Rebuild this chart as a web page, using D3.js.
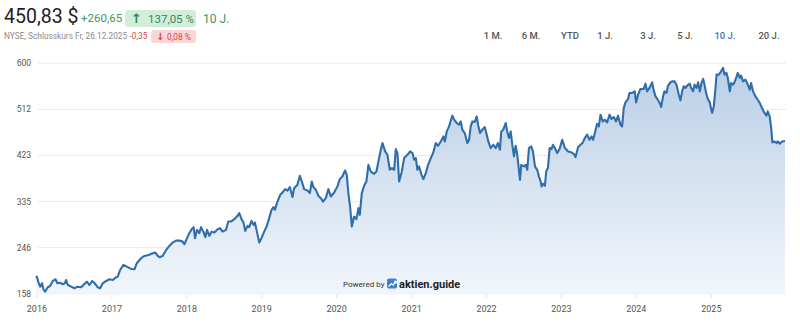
<!DOCTYPE html>
<html><head><meta charset="utf-8">
<script src="https://cdn.jsdelivr.net/npm/d3@7"></script>
<style>
html,body{margin:0;padding:0;background:#fff;}
svg{display:block;font-family:Roboto,"Noto Sans",sans-serif;}
</style></head>
<body><div id="chart"></div>
<script>
// ---- data ----
const yearFrac = [2015.984,2016.0,2016.024,2016.047,2016.069,2016.087,2016.109,2016.144,2016.176,2016.211,2016.247,2016.273,2016.309,2016.344,2016.371,2016.389,2016.411,2016.456,2016.5,2016.544,2016.589,2016.633,2016.664,2016.7,2016.736,2016.771,2016.811,2016.843,2016.877,2016.923,2016.967,
2017.011,2017.047,2017.077,2017.109,2017.153,2017.197,2017.256,2017.3,2017.331,2017.389,2017.433,2017.491,2017.544,2017.58,2017.611,2017.633,2017.677,2017.723,2017.767,2017.811,2017.856,2017.9,2017.944,2017.967,
2018.003,2018.033,2018.064,2018.091,2018.109,2018.136,2018.167,2018.189,2018.22,2018.247,2018.269,2018.3,2018.331,2018.367,2018.411,2018.443,2018.477,2018.523,2018.553,2018.589,2018.633,2018.669,2018.7,2018.731,2018.757,2018.78,2018.811,2018.833,2018.864,2018.891,2018.909,2018.936,2018.967,2018.997,
2019.033,2019.069,2019.1,2019.131,2019.157,2019.176,2019.211,2019.247,2019.277,2019.313,2019.344,2019.376,2019.411,2019.433,2019.477,2019.509,2019.536,2019.567,2019.611,2019.643,2019.669,2019.691,2019.723,2019.757,2019.789,2019.82,2019.856,2019.891,2019.923,2019.967,
2020.011,2020.043,2020.077,2020.113,2020.136,2020.157,2020.18,2020.203,2020.233,2020.264,2020.291,2020.309,2020.336,2020.367,2020.397,2020.424,2020.456,2020.5,2020.531,2020.557,2020.589,2020.611,2020.647,2020.677,2020.709,2020.736,2020.767,2020.789,2020.811,2020.833,2020.869,2020.9,2020.944,2020.98,
2021.011,2021.033,2021.056,2021.077,2021.1,2021.131,2021.157,2021.189,2021.22,2021.256,2021.287,2021.323,2021.353,2021.389,2021.424,2021.443,2021.469,2021.5,2021.523,2021.544,2021.567,2021.603,2021.633,2021.656,2021.677,2021.709,2021.744,2021.767,2021.789,2021.811,2021.843,2021.869,2021.887,2021.913,2021.944,2021.976,
2022.003,2022.024,2022.056,2022.091,2022.123,2022.153,2022.18,2022.197,2022.224,2022.256,2022.277,2022.3,2022.323,2022.344,2022.367,2022.389,2022.411,2022.447,2022.464,2022.5,2022.523,2022.544,2022.567,2022.597,2022.62,2022.647,2022.677,2022.7,2022.723,2022.736,2022.753,2022.78,2022.797,2022.82,2022.843,2022.869,2022.887,2022.913,2022.944,2022.976,
2023.011,2023.047,2023.091,2023.136,2023.167,2023.189,2023.224,2023.256,2023.287,2023.313,2023.344,2023.376,2023.403,2023.424,2023.447,2023.477,2023.5,2023.523,2023.553,2023.58,2023.611,2023.643,2023.669,2023.7,2023.731,2023.757,2023.789,2023.811,2023.833,2023.856,2023.891,2023.909,2023.944,2023.98,2023.997,
2024.024,2024.056,2024.1,2024.123,2024.144,2024.176,2024.211,2024.233,2024.256,2024.287,2024.313,2024.331,2024.357,2024.376,2024.403,2024.42,2024.447,2024.477,2024.509,2024.536,2024.567,2024.589,2024.611,2024.633,2024.656,2024.677,2024.713,2024.731,2024.757,2024.776,2024.803,2024.824,2024.847,2024.869,2024.891,2024.909,2024.931,2024.953,2024.98,2024.997,
2025.011,2025.033,2025.056,2025.069,2025.1,2025.131,2025.157,2025.176,2025.203,2025.22,2025.247,2025.264,2025.291,2025.309,2025.336,2025.353,2025.38,2025.397,2025.424,2025.456,2025.487,2025.513,2025.531,2025.557,2025.589,2025.62,2025.647,2025.677,2025.709,2025.736,2025.753,2025.78,2025.797,2025.816,2025.843,2025.869,2025.887,2025.913,2025.944,2025.984];

const prices = [190.18,190.7,178,171.5,178,166.5,161.8,170.3,172.8,182.4,185.7,178,179.1,176.1,178,184.3,174.7,171.5,168.4,171.5,170.3,176.6,181.1,174.7,182.4,178,170.3,168.4,178,182.4,185.7,
184.3,188.7,190.7,203.5,213.2,209.9,205.5,204.9,216.4,226,230.4,232.4,235.6,236.8,230.4,228,230.4,242,249.7,256,259.9,259.9,257.9,252.9,
264.5,274.1,281.8,285.6,264.5,280.4,274.1,285.6,277.1,266.4,280.4,268.9,277.1,275.2,281.8,283.7,277.1,280.4,296.4,296.4,301,306,312.5,301,294.4,278.5,288.1,285.6,297.7,290,294.4,277.1,256,264.5,
277.1,288.1,302.9,318.8,324,318.8,334.8,347.7,352.1,358.6,355.9,362.5,343.3,360.5,366.9,384.2,373.2,358.6,355.9,350.9,373.2,362.5,357.3,345.7,341.3,334.8,341.3,358.6,344.4,352.1,
363.6,377.8,382.8,394.4,386.1,350.9,325.2,286.8,306,301,322.1,309.2,350.9,365,373.2,405.3,392.4,388,392.4,411.7,434.1,447,430.9,424.5,395.7,399,395.7,435.5,427.8,373.2,392.4,418.2,424.5,430.9,
427.8,414.9,418.2,395.7,402.1,386.1,377.8,389.4,405.3,418.2,427.8,447,441.8,450.1,459.7,450.1,469.3,478.9,490.5,499.5,491.8,485.5,482.2,488.5,472.6,466.2,447,453.4,478.9,488.5,487.4,498.1,482.2,466.2,472.6,477.8,
463,450.1,437.4,443.8,437.4,447,434.1,469.3,472.6,485.5,469.3,456.6,469.3,443.8,421.3,441.8,424.5,376.5,405.3,402.1,405.3,395.7,437.4,440.5,430.9,402.1,395.7,382.8,373.2,363.6,368.8,365,392.4,399,437.4,435.5,443.8,437.4,427.8,435.5,
453.4,437.4,430.9,429,425.9,420.1,439.3,443.8,448.2,456.6,463,453.4,459.7,453.4,466.2,484.1,478.9,501.4,488.5,491.8,486.6,501.4,493.1,497,488.5,499.5,482.2,478.9,514.3,525,531.6,543.1,543.1,546.2,525,
539.8,550.8,550.8,561,546.2,552.7,563.5,548.1,536.6,530.2,523.9,516.2,536.6,546.2,543.1,555.8,562.3,565.4,565.4,559.1,539.8,528.9,546.2,555.8,552.7,557.1,561,552.7,546.2,559.1,552.7,563.5,546.2,562.3,570,559.1,543.1,531.6,525,512.4,
504.7,517.4,552.7,578.3,578.3,584.6,591.2,578.3,581.6,571.9,546.2,562.3,559.1,563.5,573.9,581.6,571.9,576.4,565.4,568.7,559.1,549.4,562.3,546.2,536.6,530.2,523.9,514.3,504.7,499.5,507.7,498.1,478.9,448.2,450.1,447,450.1,445.7,450.1,450.83];

const yTickValues = [158, 246.4, 334.8, 423.2, 511.6, 600];
const xTickYears = [2016,2017,2018,2019,2020,2021,2022,2023,2024,2025];
const rangeLabels = ["1 M.","6 M.","YTD","1 J.","3 J.","5 J.","10 J.","20 J."];
const activeRange = "10 J.";

// ---- drawing ----
const W = 800, H = 322;
const svg = d3.select("#chart").append("svg").attr("width", W).attr("height", H);

const toDate = t => { const yr = Math.floor(t); const a = Date.UTC(yr,0,1), b = Date.UTC(yr+1,0,1); return new Date(a + (t-yr)*(b-a)); };
const data = yearFrac.map((t,i) => ({date: toDate(t), v: prices[i]}));

const x = d3.scaleUtc().domain(d3.extent(data, d => d.date)).range([35.7, 785]);
const y = d3.scaleLinear().domain([158, 600]).range([293.7, 63.3]);

const defs = svg.append("defs");
const grad = defs.append("linearGradient").attr("id","areaGrad")
  .attr("gradientUnits","userSpaceOnUse").attr("x1",0).attr("x2",0).attr("y1",y(600)).attr("y2",y(158));
grad.append("stop").attr("offset","0%").attr("stop-color","#b9cee6");
grad.append("stop").attr("offset","100%").attr("stop-color","#f2f6fb");

// gridlines
svg.append("g").selectAll("line").data(yTickValues).join("line")
  .attr("x1", 38).attr("x2", 786)
  .attr("y1", d => y(d)).attr("y2", d => y(d))
  .attr("stroke", "#ebebeb").attr("stroke-width", 1);

// y labels
svg.append("g").selectAll("text").data(yTickValues).join("text")
  .attr("x", 31).attr("y", d => y(d)).attr("dy", "0.35em")
  .attr("text-anchor", "end").attr("font-size", "8.5px").attr("fill", "#555")
  .text(d => d3.format(".0f")(d));

// area + line
const area = d3.area().x(d => x(d.date)).y0(y(158) + 1).y1(d => y(d.v));
svg.append("path").datum(data).attr("d", area).attr("fill", "url(#areaGrad)");
const line = d3.line().x(d => x(d.date)).y(d => y(d.v));
svg.append("path").datum(data).attr("d", line).attr("fill", "none")
  .attr("stroke", "#2f6eab").attr("stroke-width", 2.1).attr("stroke-linejoin", "round");

// x ticks + labels
const xg = svg.append("g");
xg.selectAll("line").data(xTickYears).join("line")
  .attr("x1", d => x(new Date(Date.UTC(d,0,1)))).attr("x2", d => x(new Date(Date.UTC(d,0,1))))
  .attr("y1", y(158) + 1).attr("y2", y(158) + 4).attr("stroke", "#ddd");
xg.selectAll("text").data(xTickYears).join("text")
  .attr("x", d => x(new Date(Date.UTC(d,0,1)))).attr("y", 312)
  .attr("text-anchor", "middle").attr("font-size", "9px").attr("fill", "#555")
  .text(d => d);

// header
const hdr = svg.append("g");
hdr.append("text").attr("x", 4).attr("y", 23).attr("font-size", "19.5px").attr("fill", "#222").text("450,83 $");
hdr.append("text").attr("x", 81).attr("y", 22).attr("font-size", "11.5px").attr("fill", "#3a9a5e").text("+260,65");
hdr.append("rect").attr("x", 125).attr("y", 10).attr("width", 71).attr("height", 17).attr("rx", 3).attr("fill", "#d2eedb");
hdr.append("text").attr("x", 131).attr("y", 23).attr("font-size", "13px").attr("font-weight", "bold").attr("fill", "#2f8a55")
  .attr("font-family", "DejaVu Sans").text("↑");
hdr.append("text").attr("x", 148).attr("y", 22.5).attr("font-size", "11.5px").attr("fill", "#2f8a55").text("137,05 %");
hdr.append("text").attr("x", 203).attr("y", 22.5).attr("font-size", "12px").attr("fill", "#3a9a5e").text("10 J.");

hdr.append("text").attr("x", 4).attr("y", 39).attr("font-size", "8.3px").attr("fill", "#8a8a8a").text("NYSE, Schlusskurs Fr, 26.12.2025");
hdr.append("text").attr("x", 129.5).attr("y", 39).attr("font-size", "8.3px").attr("fill", "#d9443f").text("-0,35");
hdr.append("rect").attr("x", 151).attr("y", 30).attr("width", 45).attr("height", 13).attr("rx", 3).attr("fill", "#f9d6d6");
hdr.append("text").attr("x", 156).attr("y", 40).attr("font-size", "10px").attr("font-weight", "bold").attr("fill", "#d9443f")
  .attr("font-family", "DejaVu Sans").text("↓");
hdr.append("text").attr("x", 167).attr("y", 39.5).attr("font-size", "8.3px").attr("fill", "#d9443f").text("0,08 %");

// range buttons
const rangeX = [493, 531, 570, 605, 648, 685, 725, 769];
svg.append("g").selectAll("text").data(rangeLabels).join("text")
  .attr("x", (d,i) => rangeX[i]).attr("y", 38.5).attr("text-anchor", "middle")
  .attr("font-size", "9.5px").attr("font-weight", 500)
  .attr("fill", d => d === activeRange ? "#3a78b5" : "#555")
  .text(d => d);

// powered by
const pb = svg.append("g");
pb.append("text").attr("x", 343).attr("y", 287).attr("font-size", "8px").attr("fill", "#333").text("Powered by");
pb.append("rect").attr("x", 387).attr("y", 278.5).attr("width", 10).attr("height", 10).attr("rx", 2).attr("fill", "#3b7fd1");
pb.append("path").attr("d", "M388.5,286.5 L391.5,283.5 L393,285 L396,281.5 M394,281.3 L396.2,281.3 L396.2,283.5")
  .attr("stroke", "#fff").attr("stroke-width", 1.2).attr("fill", "none");
pb.append("text").attr("x", 399).attr("y", 288).attr("font-size", "11px").attr("font-weight", "bold").attr("fill", "#222").text("aktien.guide");
</script>
</body></html>
